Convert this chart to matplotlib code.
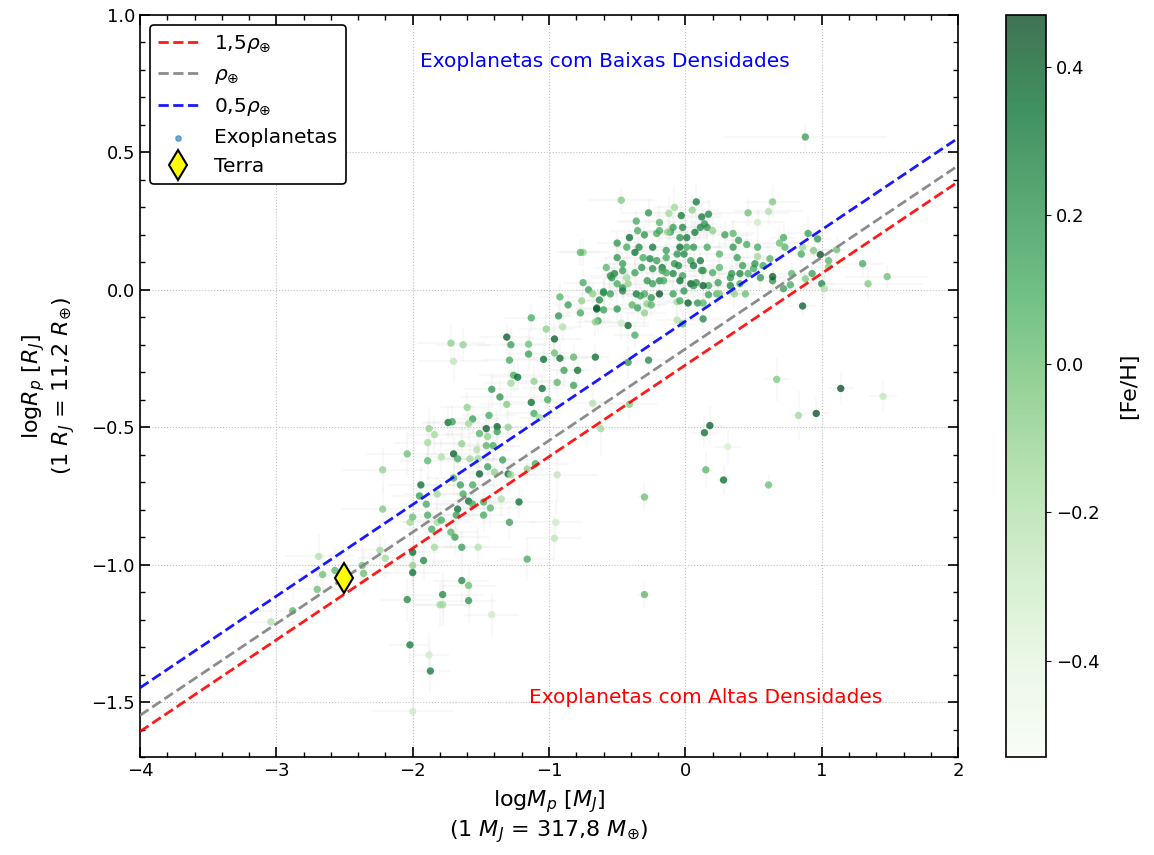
import numpy as np
import matplotlib
matplotlib.use("Agg")
import matplotlib.pyplot as plt
from matplotlib.ticker import MultipleLocator

# (logM [MJ], logR [RJ], [Fe/H], err logM, err logR)
cluster_pts = [
    (-0.47, 0.326, -0.05, 0.25, 0.04), (-0.75, 0.136, -0.1, 0.2, 0.05), (-0.77, 0.136, 0.05, 0.15, 0.05),
    (-0.27, 0.28, 0.2, 0.2, 0.05), (-0.36, 0.25, 0.1, 0.15, 0.04), (-0.19, 0.245, 0.05, 0.3, 0.06),
    (-0.08, 0.30, -0.15, 0.15, 0.08), (0.08, 0.32, 0.3, 0.1, 0.07), (-0.03, 0.27, 0.3, 0.2, 0.06),
    (0.12, 0.265, 0.3, 0.15, 0.05), (0.17, 0.275, 0.25, 0.1, 0.05), (0.05, 0.29, -0.1, 0.2, 0.06),
    (0.46, 0.28, 0.0, 0.3, 0.05), (0.61, 0.285, -0.2, 0.25, 0.05), (0.64, 0.32, -0.05, 0.2, 0.06),
    (0.53, 0.245, -0.3, 0.2, 0.05), (-0.41, 0.19, 0.35, 0.1, 0.04), (-0.35, 0.215, 0.1, 0.2, 0.05),
    (-0.30, 0.20, 0.2, 0.15, 0.04), (-0.21, 0.205, 0.1, 0.1, 0.03), (-0.11, 0.21, 0.15, 0.2, 0.05),
    (0.01, 0.19, 0.3, 0.15, 0.04), (0.11, 0.227, 0.25, 0.1, 0.04), (0.16, 0.227, 0.2, 0.1, 0.04),
    (0.20, 0.215, -0.1, 0.15, 0.05), (0.29, 0.20, 0.15, 0.2, 0.05), (0.35, 0.205, 0.05, 0.15, 0.05),
    (0.39, 0.18, 0.15, 0.1, 0.04), (-0.50, 0.17, 0.2, 0.15, 0.04), (-0.43, 0.155, 0.1, 0.1, 0.05),
    (-0.34, 0.155, 0.25, 0.2, 0.03), (-0.24, 0.155, 0.3, 0.1, 0.04), (-0.14, 0.143, 0.15, 0.15, 0.04),
    (-0.04, 0.155, 0.35, 0.1, 0.04), (0.06, 0.155, 0.2, 0.2, 0.05), (0.16, 0.155, 0.1, 0.1, 0.05),
    (0.25, 0.13, 0.05, 0.15, 0.05), (0.35, 0.155, 0.2, 0.15, 0.04), (0.45, 0.165, 0.1, 0.2, 0.05),
    (0.53, 0.155, 0.1, 0.1, 0.04), (0.69, 0.17, 0.0, 0.15, 0.05), (0.72, 0.19, 0.1, 0.1, 0.05),
    (0.73, 0.155, 0.05, 0.15, 0.05), (0.86, 0.155, -0.15, 0.1, 0.04), (0.90, 0.205, 0.15, 0.15, 0.06),
    (0.97, 0.185, 0.2, 0.1, 0.05), (0.94, 0.143, -0.05, 0.2, 0.05), (0.85, 0.13, 0.1, 0.15, 0.05),
    (0.99, 0.128, 0.45, 0.1, 0.05), (1.11, 0.146, 0.0, 0.2, 0.05), (1.05, 0.106, 0.05, 0.1, 0.04),
    (1.05, 0.084, -0.05, 0.15, 0.05), (1.30, 0.095, 0.1, 0.15, 0.05), (1.34, 0.022, -0.05, 0.4, 0.06),
    (1.48, 0.048, 0.0, 0.3, 0.04), (1.00, 0.022, 0.25, 0.1, 0.05), (1.02, 0.004, -0.2, 0.15, 0.05),
    (0.93, 0.059, 0.15, 0.1, 0.04), (0.88, 0.04, -0.05, 0.15, 0.04), (0.78, 0.059, 0.05, 0.1, 0.04),
    (0.77, 0.018, 0.1, 0.15, 0.05), (0.72, 0.004, 0.15, 0.1, 0.05), (0.86, -0.059, 0.4, 0.1, 0.04),
    (0.64, 0.033, 0.2, 0.1, 0.04), (0.64, 0.048, 0.4, 0.1, 0.05), (0.55, 0.044, 0.2, 0.15, 0.04),
    (0.50, 0.077, 0.1, 0.1, 0.04), (0.53, 0.121, -0.15, 0.15, 0.05), (0.62, 0.113, 0.05, 0.1, 0.04),
    (0.57, 0.088, 0.1, 0.1, 0.04), (0.51, 0.095, 0.2, 0.15, 0.05), (0.42, 0.088, 0.15, 0.1, 0.04),
    (0.40, 0.059, 0.25, 0.15, 0.05), (0.46, 0.059, 0.1, 0.1, 0.04), (0.33, 0.044, 0.2, 0.15, 0.04),
    (0.40, 0.022, 0.1, 0.1, 0.05), (0.36, -0.015, -0.1, 0.15, 0.05), (0.44, -0.015, 0.0, 0.1, 0.04),
    (0.33, 0.015, 0.25, 0.15, 0.05), (0.24, 0.026, 0.15, 0.1, 0.04), (0.17, 0.015, 0.1, 0.1, 0.04),
    (0.13, 0.015, 0.4, 0.15, 0.05), (0.08, 0.026, 0.2, 0.1, 0.04), (0.23, -0.015, 0.05, 0.1, 0.05),
    (0.25, -0.015, -0.05, 0.15, 0.04), (0.17, -0.018, 0.15, 0.1, 0.05), (0.09, -0.048, 0.2, 0.15, 0.04),
    (0.13, -0.048, 0.05, 0.1, 0.05), (0.02, -0.048, 0.4, 0.1, 0.04), (-0.06, -0.044, -0.15, 0.15, 0.05),
    (-0.04, -0.04, 0.1, 0.1, 0.04), (-0.09, -0.015, 0.15, 0.15, 0.05), (0.04, 0.022, 0.4, 0.1, 0.04),
    (-0.01, -0.004, 0.2, 0.1, 0.05), (-0.02, 0.051, 0.15, 0.15, 0.04), (-0.09, 0.059, 0.25, 0.1, 0.05),
    (-0.14, 0.062, 0.1, 0.15, 0.04), (-0.19, 0.033, 0.2, 0.1, 0.05), (-0.24, 0.022, 0.15, 0.15, 0.04),
    (-0.19, -0.015, 0.45, 0.1, 0.05), (-0.25, -0.029, 0.2, 0.1, 0.04), (-0.30, -0.015, 0.1, 0.15, 0.05),
    (-0.36, -0.015, 0.3, 0.1, 0.04), (-0.28, -0.051, -0.1, 0.15, 0.05), (-0.25, -0.055, 0.05, 0.1, 0.04),
    (-0.35, -0.066, 0.15, 0.1, 0.05), (-0.39, -0.055, 0.05, 0.15, 0.04), (-0.50, -0.07, 0.2, 0.1, 0.05),
    (-0.55, -0.015, 0.15, 0.15, 0.04), (-0.60, -0.011, 0.2, 0.1, 0.05), (-0.63, -0.037, 0.25, 0.1, 0.04),
    (-0.65, -0.066, 0.3, 0.15, 0.05), (-0.71, 0.0, 0.15, 0.1, 0.04), (-0.75, 0.026, 0.1, 0.15, 0.05),
    (-0.76, -0.04, -0.1, 0.1, 0.04), (-0.77, -0.084, 0.1, 0.15, 0.05), (-0.86, -0.055, 0.15, 0.1, 0.04),
    (-0.92, -0.026, 0.05, 0.15, 0.05), (-0.93, -0.095, 0.2, 0.1, 0.04), (-1.13, -0.102, 0.1, 0.2, 0.05),
    (-0.58, 0.081, 0.05, 0.1, 0.04), (-0.55, 0.051, 0.2, 0.15, 0.05), (-0.52, 0.059, 0.25, 0.1, 0.04),
    (-0.50, 0.022, 0.1, 0.1, 0.05), (-0.46, 0.007, 0.2, 0.15, 0.04), (-0.42, 0.022, -0.1, 0.1, 0.05),
    (-0.46, 0.095, 0.15, 0.15, 0.04), (-0.50, 0.117, 0.2, 0.1, 0.05), (-0.43, 0.044, -0.15, 0.1, 0.04),
    (-0.37, 0.062, 0.15, 0.15, 0.05), (-0.32, 0.081, 0.2, 0.1, 0.04), (-0.31, 0.117, 0.1, 0.15, 0.05),
    (-0.26, 0.113, 0.25, 0.1, 0.04), (-0.21, 0.106, 0.15, 0.1, 0.05), (-0.17, 0.081, 0.3, 0.15, 0.04),
    (-0.14, 0.117, 0.1, 0.1, 0.05), (-0.08, 0.095, 0.2, 0.15, 0.04), (-0.01, 0.13, 0.25, 0.1, 0.05),
    (0.04, 0.106, 0.15, 0.1, 0.04), (0.11, 0.106, 0.3, 0.15, 0.05), (0.13, 0.07, 0.2, 0.1, 0.04),
    (0.20, 0.062, 0.1, 0.1, 0.05), (0.25, 0.081, 0.05, 0.15, 0.04), (0.34, 0.059, 0.2, 0.1, 0.05),
    (0.38, 0.117, 0.15, 0.1, 0.04), (-0.04, 0.19, 0.2, 0.15, 0.05), (-0.09, 0.227, 0.15, 0.1, 0.04),
    (-0.02, 0.227, 0.25, 0.1, 0.05), (0.07, 0.209, 0.3, 0.15, 0.04), (0.01, 0.155, 0.1, 0.1, 0.05),
    (-0.06, 0.13, 0.2, 0.1, 0.04), (-0.37, 0.136, 0.35, 0.15, 0.05), (-0.19, 0.215, 0.1, 0.1, 0.04),
    (-0.13, 0.21, -0.1, 0.15, 0.05), (-0.12, 0.278, -0.15, 0.1, 0.06), (0.14, 0.24, 0.2, 0.1, 0.05),
    (-0.54, 0.044, 0.2, 0.15, 0.04), (-0.46, 0.07, 0.15, 0.1, 0.05), (-0.24, 0.077, 0.2, 0.15, 0.05),
    (-0.17, 0.07, 0.1, 0.1, 0.04), (-0.05, 0.088, 0.25, 0.1, 0.05), (0.06, 0.088, 0.3, 0.15, 0.04),
    (0.12, 0.07, 0.15, 0.1, 0.05), (0.06, 0.015, 0.2, 0.1, 0.04), (-0.04, 0.033, 0.35, 0.15, 0.05),
    (-0.16, 0.033, 0.1, 0.1, 0.04), (-0.28, 0.033, 0.2, 0.1, 0.05), (-0.33, -0.022, 0.15, 0.15, 0.04),
    (-0.46, -0.004, 0.25, 0.1, 0.05), (-0.68, -0.015, -0.1, 0.1, 0.04), (-0.60, -0.007, 0.2, 0.1, 0.05),
    (-0.65, -0.07, 0.4, 0.15, 0.04), (-0.60, -0.073, 0.15, 0.1, 0.05), (-0.64, -0.113, 0.15, 0.1, 0.04),
    (-0.66, -0.117, -0.1, 0.15, 0.05),
]

mid_pts = [
    (-1.02, -0.143, -0.1, 0.2, 0.06), (-0.90, -0.135, -0.2, 0.15, 0.05), (-0.96, -0.179, 0.4, 0.2, 0.06),
    (-1.31, -0.172, 0.4, 0.2, 0.05), (-1.28, -0.20, 0.15, 0.25, 0.06), (-1.15, -0.198, 0.0, 0.2, 0.05),
    (-1.15, -0.234, 0.15, 0.15, 0.06), (-1.04, -0.253, 0.35, 0.2, 0.05), (-0.96, -0.23, 0.0, 0.15, 0.05),
    (-0.92, -0.249, 0.35, 0.2, 0.06), (-0.82, -0.245, 0.05, 0.15, 0.05), (-0.66, -0.245, 0.35, 0.1, 0.05),
    (-0.89, -0.293, 0.15, 0.15, 0.06), (-0.79, -0.293, 0.35, 0.1, 0.05), (-0.94, -0.337, 0.05, 0.15, 0.05),
    (-0.82, -0.348, 0.15, 0.2, 0.06), (-1.05, -0.359, 0.35, 0.15, 0.05), (-1.11, -0.333, -0.1, 0.2, 0.06),
    (-1.26, -0.311, 0.1, 0.25, 0.06), (-1.23, -0.318, 0.35, 0.2, 0.05), (-1.28, -0.34, -0.15, 0.2, 0.05),
    (-1.29, -0.256, 0.1, 0.2, 0.06), (-1.72, -0.194, -0.1, 0.25, 0.07), (-1.63, -0.20, -0.1, 0.2, 0.06),
    (-1.70, -0.26, -0.25, 0.25, 0.08), (-1.42, -0.362, 0.2, 0.2, 0.06), (-1.36, -0.39, 0.2, 0.3, 0.06),
    (-1.31, -0.417, -0.05, 0.2, 0.05), (-1.13, -0.41, 0.35, 0.2, 0.06), (-1.01, -0.40, 0.1, 0.15, 0.05),
    (-1.11, -0.45, 0.1, 0.2, 0.06), (-1.07, -0.465, -0.15, 0.15, 0.05), (-0.68, -0.413, -0.2, 0.3, 0.08),
    (-0.62, -0.505, -0.15, 0.25, 0.1), (-1.60, -0.428, -0.1, 0.2, 0.06), (-1.74, -0.483, 0.35, 0.2, 0.06),
    (-1.71, -0.48, 0.15, 0.2, 0.06), (-1.56, -0.47, 0.15, 0.2, 0.05), (-1.59, -0.487, -0.15, 0.15, 0.06),
    (-1.44, -0.457, 0.1, 0.2, 0.06), (-1.46, -0.505, 0.4, 0.2, 0.05), (-1.38, -0.498, 0.4, 0.15, 0.06),
    (-1.38, -0.516, 0.15, 0.2, 0.05), (-1.30, -0.50, -0.1, 0.2, 0.06), (-1.51, -0.523, 0.05, 0.25, 0.06),
    (-1.45, -0.534, -0.1, 0.2, 0.05), (-1.88, -0.505, -0.1, 0.3, 0.08), (-1.84, -0.527, -0.15, 0.2, 0.07),
    (-1.89, -0.556, -0.15, 0.25, 0.07), (-1.64, -0.56, -0.1, 0.2, 0.06), (-1.53, -0.582, -0.2, 0.25, 0.07),
    (-1.46, -0.567, 0.05, 0.2, 0.06), (-1.41, -0.567, 0.1, 0.2, 0.06), (-1.70, -0.597, 0.4, 0.2, 0.06),
    (-1.67, -0.615, 0.1, 0.15, 0.06), (-1.58, -0.615, -0.15, 0.2, 0.07), (-1.52, -0.615, -0.15, 0.25, 0.06),
    (-1.45, -0.644, 0.15, 0.2, 0.06), (-1.51, -0.67, 0.4, 0.2, 0.06), (-1.34, -0.619, 0.15, 0.2, 0.05),
    (-1.40, -0.663, -0.1, 0.25, 0.06), (-1.30, -0.67, 0.35, 0.2, 0.06), (-1.28, -0.673, -0.15, 0.15, 0.05),
    (-1.16, -0.652, -0.1, 0.2, 0.06), (-1.10, -0.633, 0.1, 0.25, 0.06), (-1.79, -0.608, -0.2, 0.25, 0.07),
    (-1.89, -0.622, 0.05, 0.2, 0.07), (-2.04, -0.597, 0.0, 0.3, 0.08), (-2.22, -0.655, -0.1, 0.3, 0.08),
    (-1.70, -0.685, 0.1, 0.2, 0.06), (-1.65, -0.71, 0.15, 0.25, 0.07), (-1.56, -0.71, 0.1, 0.2, 0.06),
    (-1.63, -0.743, 0.1, 0.2, 0.06), (-1.59, -0.769, 0.35, 0.2, 0.06), (-1.94, -0.71, 0.35, 0.25, 0.07),
    (-1.95, -0.75, 0.15, 0.2, 0.06), (-1.90, -0.78, 0.1, 0.2, 0.07), (-1.82, -0.743, -0.15, 0.25, 0.06),
    (-1.67, -0.798, 0.35, 0.2, 0.06), (-1.68, -0.82, 0.15, 0.2, 0.06), (-1.56, -0.78, 0.1, 0.25, 0.06),
    (-1.48, -0.772, 0.1, 0.2, 0.06), (-1.43, -0.794, 0.05, 0.2, 0.07), (-1.48, -0.82, 0.1, 0.15, 0.06),
    (-1.35, -0.761, -0.2, 0.2, 0.06), (-1.22, -0.772, 0.35, 0.25, 0.06), (-1.29, -0.846, 0.15, 0.2, 0.06),
    (-0.94, -0.673, -0.25, 0.3, 0.1), (-0.95, -0.846, -0.3, 0.2, 0.08), (-0.96, -0.904, -0.25, 0.2, 0.08),
    (-1.16, -0.98, 0.1, 0.2, 0.08), (-2.02, -0.846, -0.15, 0.25, 0.07), (-2.0, -0.827, 0.0, 0.2, 0.07),
    (-1.89, -0.82, 0.1, 0.2, 0.06), (-1.82, -0.846, -0.15, 0.25, 0.07), (-1.79, -0.838, 0.1, 0.2, 0.06),
    (-1.86, -0.871, 0.1, 0.2, 0.07), (-1.72, -0.882, 0.05, 0.2, 0.06), (-1.69, -0.90, 0.15, 0.25, 0.07),
    (-1.64, -0.937, 0.15, 0.2, 0.06), (-1.84, -0.937, -0.15, 0.2, 0.07), (-1.52, -0.937, -0.2, 0.25, 0.07),
    (-2.0, -0.955, 0.35, 0.2, 0.07), (-1.92, -0.985, 0.25, 0.2, 0.07), (-2.24, -0.948, -0.15, 0.25, 0.07),
    (-2.20, -0.977, -0.15, 0.2, 0.07), (-2.69, -0.97, -0.2, 0.25, 0.08), (-2.22, -0.798, -0.05, 0.3, 0.08),
]

low_pts = [
    (-2.0, -1.003, -0.1, 0.2, 0.08), (-2.0, -1.029, 0.35, 0.2, 0.08), (-2.04, -1.127, 0.25, 0.2, 0.08),
    (-2.02, -1.292, 0.3, 0.15, 0.08), (-1.88, -1.329, -0.3, 0.15, 0.08), (-1.87, -1.387, 0.3, 0.15, 0.08),
    (-2.0, -1.534, -0.3, 0.3, 0.08), (-1.64, -1.058, 0.25, 0.2, 0.08), (-1.59, -1.076, 0.0, 0.2, 0.08),
    (-1.78, -1.109, 0.25, 0.3, 0.08), (-1.80, -1.146, -0.15, 0.2, 0.08), (-1.78, -1.146, -0.15, 0.2, 0.08),
    (-1.59, -1.131, 0.2, 0.2, 0.08), (-1.42, -1.182, -0.3, 0.2, 0.08), (-2.66, -1.036, 0.0, 0.2, 0.08),
    (-2.57, -1.021, 0.05, 0.25, 0.08), (-2.70, -1.09, 0.0, 0.2, 0.08), (-2.88, -1.168, 0.05, 0.25, 0.08),
    (-3.04, -1.208, -0.2, 0.2, 0.08), (-2.37, -1.003, 0.0, 0.25, 0.08), (-2.36, -1.032, 0.0, 0.2, 0.08),
]

dense_pts = [
    (-0.42, -0.13, 0.4, 0.15, 0.05), (-0.37, -0.165, 0.1, 0.15, 0.05), (-0.47, -0.121, -0.3, 0.2, 0.06),
    (-0.30, -0.084, -0.1, 0.15, 0.05), (-0.27, -0.256, 0.25, 0.2, 0.08), (-0.42, -0.264, 0.2, 0.15, 0.06),
    (-0.41, -0.417, -0.05, 0.2, 0.06), (-0.06, -0.11, -0.2, 0.15, 0.05), (-0.02, -0.124, 0.05, 0.1, 0.05),
    (0.13, -0.106, 0.25, 0.15, 0.05), (0.67, -0.326, -0.05, 0.1, 0.08), (1.14, -0.359, 0.45, 0.1, 0.06),
    (1.45, -0.388, -0.25, 0.1, 0.06), (0.96, -0.45, 0.45, 0.1, 0.06), (0.83, -0.457, -0.15, 0.05, 0.09),
    (0.18, -0.494, 0.4, 0.1, 0.07), (0.14, -0.52, 0.35, 0.1, 0.06), (0.31, -0.571, -0.35, 0.1, 0.06),
    (0.15, -0.655, 0.05, 0.05, 0.07), (0.28, -0.692, 0.35, 0.05, 0.05), (0.61, -0.71, 0.0, 0.05, 0.04),
    (-0.30, -0.754, 0.0, 0.05, 0.05), (-0.30, -1.109, 0.05, 0.05, 0.05), (0.88, 0.556, 0.15, 0.6, 0.05),
]

# Earth in Jupiter units
earth_logM = np.log10(1 / 317.8)
earth_logR = np.log10(1 / 11.2)
dens_factors = [1.5, 1.0, 0.5]
dens_labels = [r'1,5$\rho_{\oplus}$', r'$\rho_{\oplus}$', r'0,5$\rho_{\oplus}$']
dens_colors = ['red', 'gray', 'blue']

data = np.array(cluster_pts + mid_pts + low_pts + dense_pts)
logM, logR, feh, eM, eR = data.T

fig = plt.figure(figsize=(11.54, 8.55), dpi=100)
ax = fig.add_axes([0.1213, 0.1146, 0.7089, 0.8679])
cax = fig.add_axes([0.8718, 0.1146, 0.0347, 0.8679])

ax.errorbar(logM, logR, xerr=eM, yerr=eR, fmt='none', ecolor='lightgray',
            elinewidth=1.5, alpha=0.15, zorder=1)
sc = ax.scatter(logM, logR, c=feh, cmap='Greens', vmin=-0.53, vmax=0.47,
                s=28, alpha=0.75, edgecolors='none', zorder=2)

# constant density lines: R ~ (M / rho)^(1/3)
xx = np.linspace(-4, 2, 10)
for f, lab, col in zip(dens_factors, dens_labels, dens_colors):
    yy = earth_logR + (xx - earth_logM) / 3 - np.log10(f) / 3
    ax.plot(xx, yy, '--', color=col, lw=2, alpha=0.9, label=lab, zorder=3)

ax.scatter([], [], s=15, color='C0', alpha=0.6, label='Exoplanetas')
ax.plot(earth_logM, earth_logR, 'd', ms=15, mfc='yellow', mec='black', mew=1.5,
        ls='none', label='Terra', zorder=4)

ax.text(-0.59, 0.83, 'Exoplanetas com Baixas Densidades', color='blue',
        fontsize=14.5, ha='center', va='center')
ax.text(0.15, -1.482, 'Exoplanetas com Altas Densidades', color='red',
        fontsize=14.5, ha='center', va='center')

ax.set_xlim(-4, 2)
ax.set_ylim(-1.7, 1.0)
ax.xaxis.set_major_locator(MultipleLocator(1))
ax.xaxis.set_minor_locator(MultipleLocator(0.2))
ax.yaxis.set_major_locator(MultipleLocator(0.5))
ax.yaxis.set_minor_locator(MultipleLocator(0.1))
ax.tick_params(which='both', direction='in', top=True, right=True, labelsize=13)
ax.tick_params(which='major', length=7, width=1.2)
ax.tick_params(which='minor', length=3.5, width=1)
for sp in ax.spines.values():
    sp.set_linewidth(1.2)
ax.grid(True, ls=':', color='silver', lw=0.8)
ax.set_axisbelow(True)

ax.set_xlabel(r'log$M_p$ [$M_J$]' + '\n' + r'(1 $M_J$ = 317,8 $M_{\oplus}$)', fontsize=16, labelpad=6)
ax.set_ylabel(r'log$R_p$ [$R_J$]' + '\n' + r'(1 $R_J$ = 11,2 $R_{\oplus}$)', fontsize=16, labelpad=10)

leg = ax.legend(loc='upper left', fontsize=14.5, frameon=True, edgecolor='black',
                fancybox=True, framealpha=1, borderaxespad=0.5)
leg.get_frame().set_linewidth(1.2)

cb = fig.colorbar(sc, cax=cax)
cb.set_ticks([-0.4, -0.2, 0.0, 0.2, 0.4])
cb.ax.tick_params(labelsize=13)
cb.set_label('[Fe/H]', fontsize=16, labelpad=14)
cb.outline.set_linewidth(1.2)

fig.savefig('out.png', dpi=100)
